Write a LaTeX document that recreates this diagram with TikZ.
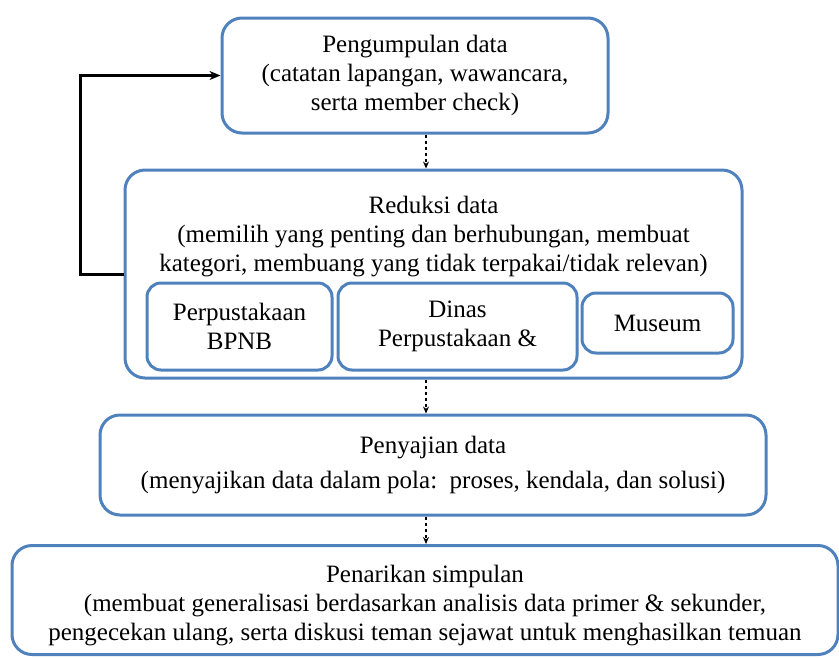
\documentclass[tikz,border=0pt]{standalone}
\usepackage{fontspec}
\setmainfont{Liberation Serif}
\usetikzlibrary{arrows.meta, positioning}
\definecolor{boxblue}{RGB}{79,129,189}

\begin{document}
\begin{tikzpicture}[x=1pt, y=-1pt,
    every node/.style={font=\fontsize{25}{29}\selectfont},
    stage/.style={draw=boxblue, line width=3pt, rounded corners=20pt, align=center, inner sep=0pt},
    source/.style={draw=boxblue, line width=3pt, rounded corners=14pt, align=center, inner sep=0pt},
    flowarrow/.style={black, dashed, line width=1.2pt, -{Stealth[length=7pt, width=6pt]}},
    feedback/.style={black, line width=3pt, -{Stealth[length=11pt, width=9pt]}}]
  \useasboundingbox (0,0) rectangle (839,657);
  \coordinate (axis) at (426,0);
  % main stages
  \node[stage, minimum width=386, minimum height=115] (pengumpulan) at (415,75.5)
    {Pengumpulan data\\(catatan lapangan, wawancara,\\serta member check)};
  \node[stage, minimum width=617, minimum height=208] (reduksi) at (433.5,274) {};
  \node[align=center] (reduksitext) at (433.5,237)
    {Reduksi data\\(memilih yang penting dan berhubungan, membuat\\kategori, membuang yang tidak terpakai/tidak relevan)};
  \node[stage, minimum width=666, minimum height=100] (penyajian) at (433,465)
    {Penyajian data\\[6pt](menyajikan data dalam pola:\ \ proses, kendala, dan solusi)};
  \node[stage, minimum width=826, minimum height=109] (penarikan) at (425,600) {};
  \node[align=center] (penarikantext) at (425,606)
    {Penarikan simpulan\\(membuat generalisasi berdasarkan analisis data primer \& sekunder,\\pengecekan ulang, serta diskusi teman sejawat untuk menghasilkan temuan};
  % sources inside reduksi
  \node[source, minimum width=185, minimum height=87] (bpnb) at (239.5,326.5) {Perpustakaan\\BPNB};
  \node[source, minimum width=239, minimum height=87] (dinas) at (457.5,326.5) {Dinas\\Perpustakaan \&};
  \node[source, minimum width=151, minimum height=60] (museum) at (657.5,323) {Museum};
  % connectors
  \draw[flowarrow] (pengumpulan.south -| axis) -- (reduksi.north -| axis);
  \draw[flowarrow] (reduksi.south -| axis) -- (penyajian.north -| axis);
  \draw[flowarrow] (penyajian.south -| axis) -- (penarikan.north -| axis);
  \draw[feedback] (reduksi.west) -- ++(-43,0) |- (pengumpulan.west);
\end{tikzpicture}
\end{document}
